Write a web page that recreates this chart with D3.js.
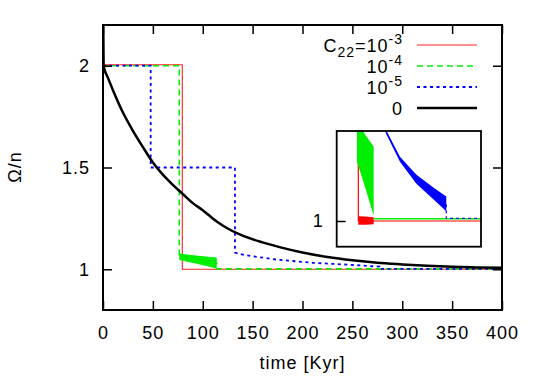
<!DOCTYPE html>
<html>
<head>
<meta charset="utf-8">
<script src="https://cdn.jsdelivr.net/npm/d3@7"></script>
<style>
  body { margin: 0; background: #fff; }
  svg text { font-family: "Liberation Sans", Arial, sans-serif; font-size: 18px; letter-spacing: 1px; fill: #000; }
</style>
</head>
<body>
<svg id="chart" width="540" height="378"></svg>
<script>
// ---- data ----
var xTicks = [0, 50, 100, 150, 200, 250, 300, 350, 400];
var yTicks = [1, 1.5, 2];
var insetYTicks = [1];

// black: C22 = 0
var blackT = [0, 0.6, 5, 10, 20, 30, 40, 50, 60, 70, 80, 90, 100, 110, 120, 140, 160, 180, 200, 225, 250, 275, 300, 325, 350, 375, 400];
var blackV = [2.35, 2.0, 1.94, 1.88, 1.77, 1.68, 1.60, 1.525, 1.465, 1.415, 1.37, 1.325, 1.29, 1.25, 1.215, 1.165, 1.132, 1.105, 1.082, 1.06, 1.044, 1.032, 1.024, 1.017, 1.012, 1.009, 1.007];

// red: C22 = 1e-3
var redT = [0, 79.5, 79.5, 400];
var redV = [2.005, 2.005, 1.0, 1.0];
var redBandT = [79.5, 96, 114];
var redBandHi = [1.0037, 1.0035, 1.003];
var redBandLo = [0.997, 0.997, 0.9975];

// green: C22 = 1e-4
var greenT = [0, 76.5, 76.5, 95, 114, 114, 400];
var greenV = [2.0, 2.0, 1.062, 1.046, 1.03, 1.0018, 1.0018];
var greenBandT = [76.5, 95, 114];
var greenBandHi = [1.078, 1.067, 1.058];
var greenBandLo = [1.046, 1.026, 1.004];

// blue: C22 = 1e-5
var blueT = [0, 47.8, 47.8, 132.3, 132.3, 141.6, 173, 210, 248, 277, 277, 400];
var blueV = [2.0, 2.0, 1.5, 1.5, 1.082, 1.070, 1.048, 1.032, 1.022, 1.013, 1.002, 1.002];
var blueBandT = [132.3, 141.6, 173, 210, 248, 277];
var blueBandHi = [1.083, 1.071, 1.050, 1.036, 1.026, 1.019];
var blueBandLo = [1.079, 1.068, 1.046, 1.029, 1.017, 1.0075];

var legendLabels = ['C22=10-3', '10-4', '10-5', '0'];

///////////// drawing /////////////
var svg = d3.select('#chart');
var pL = 103, pR = 502, pT = 25, pB = 310;

var x = d3.scaleLinear().domain([0, 400]).range([pL, pR]);
var y = d3.scaleLinear().domain([0.8, 2.2]).range([pB, pT]);

var ix = d3.scaleLinear().domain([31, 355]).range([336.7, 481]);
var iy = d3.scaleLinear().domain([0.98, 1.07]).range([246.7, 131]);

function zip(t, v) { return t.map(function(d, i) { return [d, v[i]]; }); }
function band(t, hi, lo) { return t.map(function(d, i) { return [d, hi[i], lo[i]]; }); }

var styles = {
  red:   {stroke: '#ff2020', width: 1.1, dash: null},
  green: {stroke: '#00ee00', width: 1.6, dash: '6,4'},
  blue:  {stroke: '#0000ff', width: 1.8, dash: '3,3.5'},
  black: {stroke: '#000', width: 2.5, dash: null}
};

var defs = svg.append('defs');
defs.append('clipPath').attr('id', 'clipMain').append('rect')
  .attr('x', pL).attr('y', pT).attr('width', pR - pL).attr('height', pB - pT);
defs.append('clipPath').attr('id', 'clipInset').append('rect')
  .attr('x', ix.range()[0]).attr('y', iy.range()[1])
  .attr('width', ix.range()[1] - ix.range()[0]).attr('height', iy.range()[0] - iy.range()[1]);

function drawLine(g, sx, sy, data, st, curve) {
  var line = d3.line().x(function(d) { return sx(d[0]); }).y(function(d) { return sy(d[1]); });
  if (curve) line.curve(curve);
  g.append('path').datum(data)
    .attr('d', line)
    .attr('fill', 'none')
    .attr('stroke', st.stroke)
    .attr('stroke-width', st.width)
    .attr('stroke-dasharray', st.dash);
}
function drawBand(g, sx, sy, data, color) {
  var area = d3.area().x(function(d) { return sx(d[0]); })
    .y0(function(d) { return sy(d[2]); }).y1(function(d) { return sy(d[1]); });
  g.append('path').datum(data).attr('d', area).attr('fill', color).attr('stroke', 'none');
}

// main plot lines
var gm = svg.append('g').attr('clip-path', 'url(#clipMain)');
drawLine(gm, x, y, zip(redT, redV), styles.red);
drawBand(gm, x, y, band(greenBandT, greenBandHi, greenBandLo), '#00ee00');
drawLine(gm, x, y, zip(greenT, greenV), styles.green);
drawLine(gm, x, y, zip(blueT, blueV), styles.blue);
drawLine(gm, x, y, zip(blackT, blackV), styles.black, d3.curveMonotoneX);

// main frame and ticks
svg.append('rect').attr('x', pL).attr('y', pT).attr('width', pR - pL).attr('height', pB - pT)
  .attr('fill', 'none').attr('stroke', '#000').attr('stroke-width', 2);

var tickLen = 9;
function axis(gen, scale, ticks, tx, ty, fmt) {
  var g = svg.append('g').attr('transform', 'translate(' + tx + ',' + ty + ')')
    .call(gen(scale).tickValues(ticks).tickSize(-tickLen).tickPadding(13).tickFormat(fmt));
  g.select('.domain').remove();
  g.selectAll('line').attr('stroke', '#000').attr('stroke-width', 1.5);
  g.attr('font-size', null).attr('font-family', null);
  return g;
}
axis(d3.axisBottom, x, xTicks, 0, pB, d3.format('d')).selectAll('text').attr('dy', '0.9em');
axis(d3.axisTop, x, xTicks, 0, pT, function() { return ''; });
axis(d3.axisLeft, y, yTicks, pL, 0, function(d) { return d; });
axis(d3.axisRight, y, yTicks, pR, 0, function() { return ''; });

// axis titles
svg.append('text').attr('x', (pL + pR) / 2).attr('y', 369).attr('text-anchor', 'middle').text('time [Kyr]');
svg.append('text').attr('transform', 'translate(21,167) rotate(-90)').attr('text-anchor', 'middle').text('Ω/n');

// inset
svg.append('rect').attr('x', ix.range()[0]).attr('y', iy.range()[1])
  .attr('width', ix.range()[1] - ix.range()[0]).attr('height', iy.range()[0] - iy.range()[1])
  .attr('fill', '#fff');
var gi = svg.append('g').attr('clip-path', 'url(#clipInset)');
drawBand(gi, ix, iy, band(redBandT, redBandHi, redBandLo), '#ff0000');
drawLine(gi, ix, iy, zip(redT, redV), {stroke: '#ff0000', width: 1.2, dash: null});
drawBand(gi, ix, iy, band(greenBandT, greenBandHi, greenBandLo), '#00ee00');
drawLine(gi, ix, iy, [[greenT[4], greenV[5]], [greenT[6], greenV[6]]], {stroke: '#00ee00', width: 1.4, dash: null});
drawBand(gi, ix, iy, band(blueBandT, blueBandHi, blueBandLo), '#0000ff');
drawLine(gi, ix, iy, zip(blueT.slice(9), blueV.slice(9)), {stroke: '#0000ff', width: 1.2, dash: '3,3'});
svg.append('rect').attr('x', ix.range()[0]).attr('y', iy.range()[1])
  .attr('width', ix.range()[1] - ix.range()[0]).attr('height', iy.range()[0] - iy.range()[1])
  .attr('fill', 'none').attr('stroke', '#000').attr('stroke-width', 1.8);
axis(d3.axisLeft, iy, insetYTicks, ix.range()[0], 0, function(d) { return d; });

// legend
var legRowY = [45, 66, 87, 108];
var legKeys = ['red', 'green', 'blue', 'black'];
var lg = svg.append('g');
legendLabels.forEach(function(lab, i) {
  var t = lg.append('text').attr('x', 403).attr('y', legRowY[i] + 6.5).attr('text-anchor', 'end');
  var m = lab.match(/^(C)(22)(=10)(-\d)$|^(10)(-\d)$/);
  if (lab === '0') { t.text('0'); }
  else if (m && m[1]) {
    t.append('tspan').text('C');
    t.append('tspan').attr('font-size', '14px').attr('dy', 5).text('22');
    t.append('tspan').attr('dy', -5).text('=10');
    t.append('tspan').attr('font-size', '14px').attr('dy', -8).text(m[4]);
  } else {
    t.append('tspan').text(m[5]);
    t.append('tspan').attr('font-size', '14px').attr('dy', -8).text(m[6]);
  }
  var st = styles[legKeys[i]];
  lg.append('line').attr('x1', 417).attr('x2', 477).attr('y1', legRowY[i]).attr('y2', legRowY[i])
    .attr('stroke', st.stroke).attr('stroke-width', st.width).attr('stroke-dasharray', st.dash);
});
</script>
</body>
</html>
